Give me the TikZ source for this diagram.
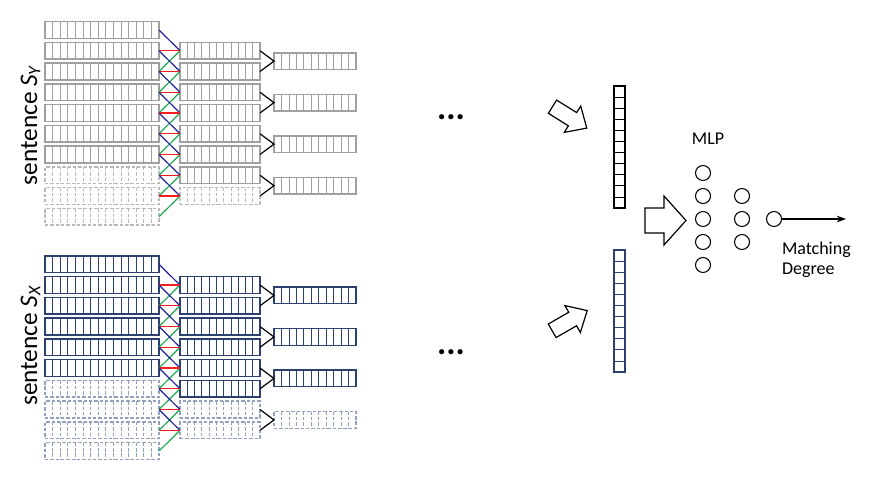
\documentclass[tikz,border=0pt]{standalone}
\usepackage{fontspec}
\setmainfont{Carlito}
\usetikzlibrary{calc,arrows.meta}

\definecolor{grayline}{RGB}{160,160,160}
\definecolor{graydash}{RGB}{185,185,185}
\definecolor{navyline}{RGB}{45,65,110}
\definecolor{navydash}{RGB}{145,160,190}
\definecolor{wblue}{RGB}{35,35,160}
\definecolor{wred}{RGB}{240,30,30}
\definecolor{wgreen}{RGB}{30,170,80}

\begin{document}
\begin{tikzpicture}[x=0.75pt, y=-0.75pt,
            font = \fontsize{13.5}{15}\selectfont,
            every node/.style = {inner sep=0pt, outer sep=0pt},
            hcells/.style = {path picture={
                \pgfmathtruncatemacro{\nc}{#1-1}
                \foreach \k in {1,...,\nc}
                    \draw[line width=0.6pt] ($(path picture bounding box.north west)!{\k/#1}!(path picture bounding box.north east)$)
                        -- ($(path picture bounding box.south west)!{\k/#1}!(path picture bounding box.south east)$);}},
            vcells/.style = {path picture={
                \pgfmathtruncatemacro{\nc}{#1-1}
                \foreach \k in {1,...,\nc}
                    \draw[line width=0.6pt] ($(path picture bounding box.north west)!{\k/#1}!(path picture bounding box.south west)$)
                        -- ($(path picture bounding box.north east)!{\k/#1}!(path picture bounding box.south east)$);}},
            cellbox/.style = {draw, line width=1.1pt, minimum height=12.5pt},
            lbox/.style = {cellbox, minimum width=85.5pt, hcells=15},
            mbox/.style = {cellbox, minimum width=60pt, hcells=11},
            tbox/.style = {cellbox, minimum width=61.5pt, hcells=11},
            boxY1/.style = {color=grayline},
            boxY0/.style = {color=graydash, dash pattern=on 2.6pt off 1.4pt},
            boxX1/.style = {color=navyline},
            boxX0/.style = {color=navydash, dash pattern=on 2.6pt off 1.4pt},
            conv/.style = {solid, line width=0.9pt},
            pool/.style = {solid, line width=0.9pt, black},
            vecbox/.style = {draw, line width=1.2pt, minimum width=8.25pt, minimum height=91.5pt, vcells=11},
            neuron/.style = {circle, draw, line width=0.8pt, minimum size=11.25pt},
            fatarrow/.style = {draw, line width=0.9pt, fill=white, line join=miter}]

    \useasboundingbox (0,0) rectangle (877,481);

    % two sentences: words, convolution, pooling
    \foreach \b/\yc/\ns/\nt in {Y/30/7/4, X/264.3/6/3} {
        \foreach \i in {0,...,9} {
            \pgfmathtruncatemacro{\st}{\i<\ns}
            \node[lbox, box\b\st] (\b-L\i) at (102, {\yc+20.75*\i}) {};
        }
        \foreach \j in {0,...,7} {
            \pgfmathtruncatemacro{\st}{\j<\ns}
            \node[mbox, box\b\st] (\b-M\j) at (220, {\yc+20.75*(\j+1)}) {};
        }
        \foreach \k in {0,...,3} {
            \pgfmathtruncatemacro{\st}{\k<\nt}
            \node[tbox, box\b\st] (\b-T\k) at (315, {\yc+20.75*(2*\k+1.5)}) {};
        }
        \foreach \j in {0,...,7} {
            \pgfmathtruncatemacro{\ja}{\j+1}
            \pgfmathtruncatemacro{\jb}{\j+2}
            \draw[conv, wblue] (\b-L\j.east) -- (\b-M\j.west);
            \draw[conv, wgreen] (\b-L\jb.east) -- (\b-M\j.west);
            \draw[conv, wred] (\b-L\ja.east) -- (\b-M\j.west);
        }
        \foreach \k in {0,...,3} {
            \pgfmathtruncatemacro{\ma}{2*\k}
            \pgfmathtruncatemacro{\mb}{2*\k+1}
            \draw[pool] (\b-M\ma.east) -- (\b-T\k.west) -- (\b-M\mb.east);
        }
    }

    \node[rotate=90, anchor=base, font=\fontsize{19}{23}\selectfont] (sY) at (37,125) {sentence \textit{S}\textsubscript{\textit{Y}}};
    \node[rotate=90, anchor=base, font=\fontsize{19}{23}\selectfont] (sX) at (37,345.5) {sentence \textit{S}\textsubscript{\textit{X}}};

    \node[font=\fontsize{26}{26}\selectfont\bfseries] (dotsY) at (451,117) {...};
    \node[font=\fontsize{26}{26}\selectfont\bfseries] (dotsX) at (451,352) {...};

    % fat arrows
    \draw[fatarrow, shift={(552.5,106.7)}, rotate=-32] (0,-7.8) -- (23.6,-7.8) -- (23.6,-15.5) -- (40.4,0)
        -- (23.6,15.5) -- (23.6,7.8) -- (0,7.8) -- cycle;
    \draw[fatarrow, shift={(552.2,330.8)}, rotate=30] (0,-7.8) -- (23.6,-7.8) -- (23.6,-15.5) -- (40.4,0)
        -- (23.6,15.5) -- (23.6,7.8) -- (0,7.8) -- cycle;
    \draw[fatarrow, shift={(645,220.5)}] (0,-12.5) -- (19,-12.5) -- (19,-24.5) -- (41,0)
        -- (19,24.5) -- (19,12.5) -- (0,12.5) -- cycle;

    % sentence vectors
    \node[vecbox, black] (vY) at (619.5,147) {};
    \node[vecbox, navyline] (vX) at (619.5,311) {};

    % MLP
    \node (mlp) at (708,139) {MLP};
    \foreach \r in {1,...,5}
        \node[neuron] (h1-\r) at (703, {173+23*(\r-1)}) {};
    \foreach \r in {1,...,3}
        \node[neuron] (h2-\r) at (742, {196+23*(\r-1)}) {};
    \node[neuron] (out) at (774,219) {};
    \coordinate (res) at (846,219);
    \draw[line width=0.8pt, -{Stealth[length=7pt, width=5pt]}] (out.east) -- (res);
    \node[anchor=west, align=left] (md) at (782,260) {Matching\\Degree};
\end{tikzpicture}
\end{document}
